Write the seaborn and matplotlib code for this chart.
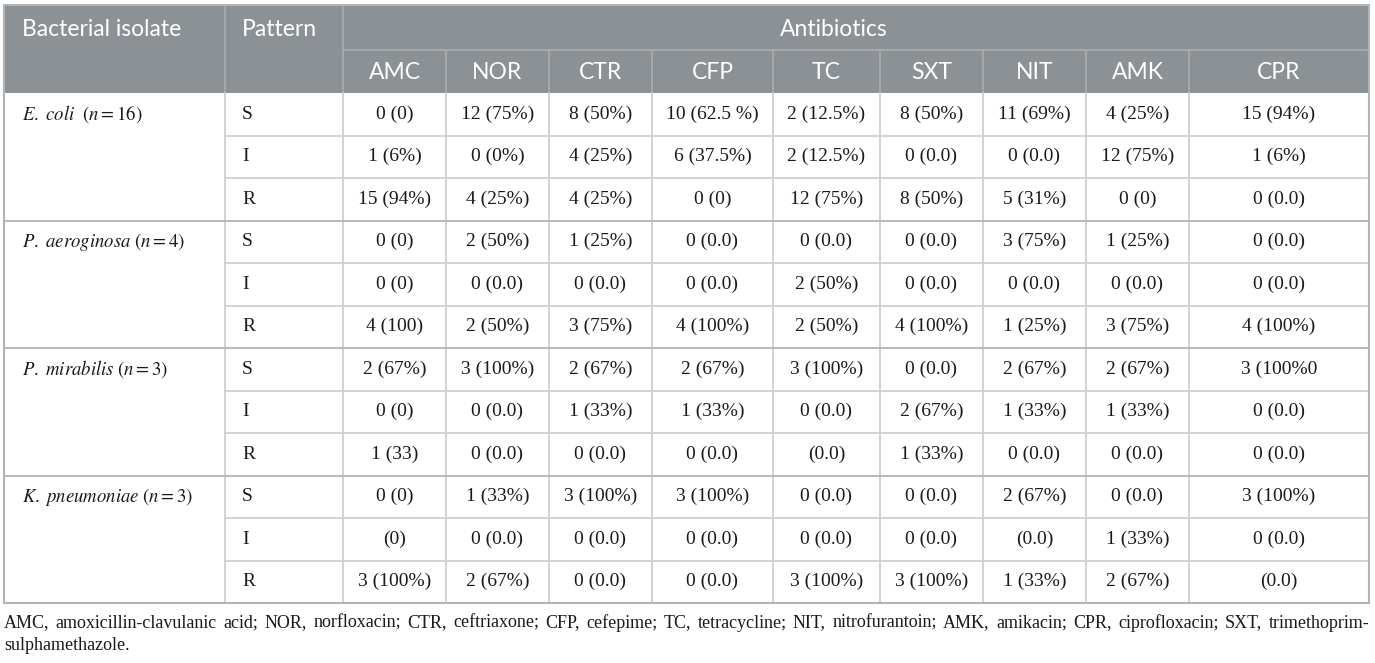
import matplotlib
matplotlib.use("Agg")
import matplotlib.pyplot as plt
import seaborn as sns

antibiotics = ["AMC", "NOR", "CTR", "CFP", "TC", "SXT", "NIT", "AMK", "CPR"]
patterns = ["S", "I", "R"]
isolates = [
    r"$\mathit{E.\ coli}\ \ (n=16)$",
    r"$\mathit{P.\ aeroginosa}\ (n=4)$",
    r"$\mathit{P.\ mirabilis}\ (n=3)$",
    r"$\mathit{K.\ pneumoniae}\ (n=3)$",
]

ecoli = [
    ["0 (0)", "12 (75%)", "8 (50%)", "10 (62.5 %)", "2 (12.5%)", "8 (50%)", "11 (69%)", "4 (25%)", "15 (94%)"],
    ["1 (6%)", "0 (0%)", "4 (25%)", "6 (37.5%)", "2 (12.5%)", "0 (0.0)", "0 (0.0)", "12 (75%)", "1 (6%)"],
    ["15 (94%)", "4 (25%)", "4 (25%)", "0 (0)", "12 (75%)", "8 (50%)", "5 (31%)", "0 (0)", "0 (0.0)"],
]
p_aeroginosa = [
    ["0 (0)", "2 (50%)", "1 (25%)", "0 (0.0)", "0 (0.0)", "0 (0.0)", "3 (75%)", "1 (25%)", "0 (0.0)"],
    ["0 (0)", "0 (0.0)", "0 (0.0)", "0 (0.0)", "2 (50%)", "0 (0.0)", "0 (0.0)", "0 (0.0)", "0 (0.0)"],
    ["4 (100)", "2 (50%)", "3 (75%)", "4 (100%)", "2 (50%)", "4 (100%)", "1 (25%)", "3 (75%)", "4 (100%)"],
]
p_mirabilis = [
    ["2 (67%)", "3 (100%)", "2 (67%)", "2 (67%)", "3 (100%)", "0 (0.0)", "2 (67%)", "2 (67%)", "3 (100%0"],
    ["0 (0)", "0 (0.0)", "1 (33%)", "1 (33%)", "0 (0.0)", "2 (67%)", "1 (33%)", "1 (33%)", "0 (0.0)"],
    ["1 (33)", "0 (0.0)", "0 (0.0)", "0 (0.0)", "(0.0)", "1 (33%)", "0 (0.0)", "0 (0.0)", "0 (0.0)"],
]
k_pneumoniae = [
    ["0 (0)", "1 (33%)", "3 (100%)", "3 (100%)", "0 (0.0)", "0 (0.0)", "2 (67%)", "0 (0.0)", "3 (100%)"],
    ["(0)", "0 (0.0)", "0 (0.0)", "0 (0.0)", "0 (0.0)", "0 (0.0)", "(0.0)", "1 (33%)", "0 (0.0)"],
    ["3 (100%)", "2 (67%)", "0 (0.0)", "0 (0.0)", "3 (100%)", "3 (100%)", "1 (33%)", "2 (67%)", "(0.0)"],
]
groups = [ecoli, p_aeroginosa, p_mirabilis, k_pneumoniae]

footnote_line1 = ("AMC, amoxicillin-clavulanic acid; NOR, norfloxacin; CTR, ceftriaxone; CFP, cefepime; "
                  "TC, tetracycline; NIT, nitrofurantoin; AMK, amikacin; CPR, ciprofloxacin; SXT, trimethoprim-")
footnote_line2 = "sulphamethazole."

# ---- layout / style ----
W, H = 1375, 663
COL_W = [221, 118, 103, 103, 103, 121, 107, 103, 103, 103, 180]
X0 = 4
TOP = 5
H1, H2 = 45, 43
ROW_H = 42.5
HEAD_BG = "#8c9195"
HEAD_LINE = "#a9adb0"
GRID = "#cfcfcf"
GROUP_LINE = "#b8b8b8"
BORDER = "#b3b3b3"
TXT = "#1a1a1a"

sns.set_theme(style="white")
plt.rcParams["mathtext.fontset"] = "stix"
SANS = ["Lato", "DejaVu Sans"]
SERIF = ["Liberation Serif", "DejaVu Serif"]

fig = plt.figure(figsize=(W / 100, H / 100), dpi=100)
ax = fig.add_axes([0, 0, 1, 1])
ax.set_xlim(0, W)
ax.set_ylim(H, 0)
ax.axis("off")

edges = [X0]
for w in COL_W:
    edges.append(edges[-1] + w)
right = edges[-1]
head_bottom = TOP + H1 + H2
n_rows = len(groups) * len(patterns)
bottom = head_bottom + n_rows * ROW_H

# header background
ax.add_patch(plt.Rectangle((X0, TOP), right - X0, H1 + H2, color=HEAD_BG, lw=0, zorder=1))
ax.plot([edges[1], edges[1]], [TOP, head_bottom], color=HEAD_LINE, lw=1.2, zorder=2)
ax.plot([edges[2], edges[2]], [TOP, head_bottom], color=HEAD_LINE, lw=1.2, zorder=2)
ax.plot([edges[2], right], [TOP + H1, TOP + H1], color=HEAD_LINE, lw=1.2, zorder=2)
for x in edges[3:-1]:
    ax.plot([x, x], [TOP + H1, head_bottom], color=HEAD_LINE, lw=1.2, zorder=2)

hkw = dict(color="white", fontsize=16.5, family=SANS, va="center", zorder=3)
ax.text(22, TOP + H1 / 2 + 2, "Bacterial isolate", ha="left", **hkw)
ax.text(edges[1] + 17, TOP + H1 / 2 + 2, "Pattern", ha="left", **hkw)
ax.text(834, TOP + H1 / 2 + 2, "Antibiotics", ha="center", **hkw)
for j, name in enumerate(antibiotics):
    ax.text((edges[j + 2] + edges[j + 3]) / 2, TOP + H1 + H2 / 2 + 1, name, ha="center", **hkw)

# body grid
for x in edges[1:-1]:
    ax.plot([x, x], [head_bottom, bottom], color=GRID, lw=1.3, zorder=2)
for r in range(1, n_rows):
    y = head_bottom + r * ROW_H
    if r % len(patterns) == 0:
        ax.plot([X0, right], [y, y], color=GROUP_LINE, lw=1.4, zorder=2)
    else:
        ax.plot([edges[1], right], [y, y], color=GRID, lw=1.3, zorder=2)
ax.add_patch(plt.Rectangle((X0, TOP), right - X0, bottom - TOP, fill=False,
                           edgecolor=BORDER, lw=1.5, zorder=4))

# body text
bkw = dict(color=TXT, fontsize=14, family=SERIF, va="center", zorder=3)
for g, rows in enumerate(groups):
    y0 = head_bottom + g * len(patterns) * ROW_H
    ax.text(22, y0 + ROW_H / 2, isolates[g], ha="left", color=TXT, fontsize=13.5,
            va="center", zorder=3)
    for i, vals in enumerate(rows):
        y = y0 + (i + 0.5) * ROW_H
        ax.text(edges[1] + 17, y, patterns[i], ha="left", **bkw)
        for j, v in enumerate(vals):
            ax.text((edges[j + 2] + edges[j + 3]) / 2, y, v, ha="center", **bkw)

# footnote: first line justified across the table width
fkw = dict(color=TXT, fontsize=13, family=SERIF, va="center")
words = footnote_line1.split(" ")
objs = [ax.text(0, 623, w_, ha="left", **fkw) for w_ in words]
fig.canvas.draw()
renderer = fig.canvas.get_renderer()
widths = [o.get_window_extent(renderer).width for o in objs]
gap = (right - X0 - sum(widths)) / (len(words) - 1)
x = X0
for o, wd in zip(objs, widths):
    o.set_x(x)
    x += wd + gap
ax.text(X0, 645, footnote_line2, ha="left", **fkw)

fig.savefig("out.png", dpi=100, facecolor="white")
plt.close(fig)
